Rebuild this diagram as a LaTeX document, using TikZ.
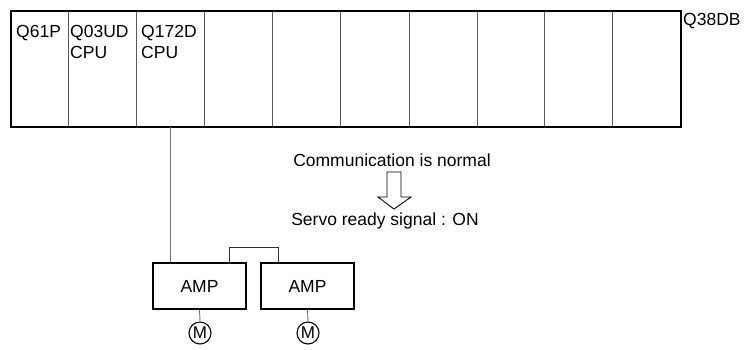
\documentclass[tikz,border=0pt]{standalone}
\usepackage{fontspec}
\setmainfont{Liberation Sans}
\begin{document}
\begin{tikzpicture}[x=1pt,y=-1pt,
  lbl/.style={font=\fontsize{17.5}{21}\selectfont, inner sep=0pt},
  slot/.style={draw=black!65, line width=0.9pt, minimum height=116pt, inner sep=0pt, anchor=north west},
  ampbox/.style={draw=black, line width=1.2pt, minimum width=93pt, minimum height=46pt, font=\fontsize{17.5}{21}\selectfont, inner sep=0pt},
  motor/.style={draw=black, line width=1.1pt, circle, minimum size=22pt, inner sep=0pt, font=\fontsize{17}{17}\selectfont},
  wire/.style={draw=black!55, line width=0.9pt},
  link/.style={draw=black!80, line width=0.9pt}
]
\useasboundingbox (0,0) rectangle (747,349);
% slots
\node[slot, minimum width=58pt] (s1) at (10,10) {};
\node[slot, minimum width=68pt] (s2) at (68,10) {};
\node[slot, minimum width=68pt] (s3) at (136,10) {};
\node[slot, minimum width=68pt] (s4) at (204,10) {};
\node[slot, minimum width=68pt] (s5) at (272,10) {};
\node[slot, minimum width=69pt] (s6) at (340,10) {};
\node[slot, minimum width=68pt] (s7) at (409,10) {};
\node[slot, minimum width=67pt] (s8) at (477,10) {};
\node[slot, minimum width=68pt] (s9) at (544,10) {};
\node[slot, minimum width=68pt] (s10) at (612,10) {};
% rack outline
\node[draw=black, line width=1.7pt, minimum width=670pt, minimum height=116pt, inner sep=0pt, anchor=north west] (rack) at (10,10) {};
% slot labels
\node[lbl, anchor=base west] (t1) at (16,37) {Q61P};
\node[lbl, anchor=base west, align=left] (t2) at (70,58) {Q03UD\\CPU};
\node[lbl, anchor=base west, align=left] (t3) at (141,58) {Q172D\\CPU};
\node[lbl, anchor=base west] (t4) at (683,25) {Q38DB};
% amplifiers
\node[ampbox] (amp1) at (199.5,286) {AMP};
\node[ampbox] (amp2) at (307.5,286) {AMP};
\node[motor] (m1) at (200,333) {M};
\node[motor] (m2) at (308,333) {M};
% connectors
\draw[wire] (s3.south) -- (s3.south |- amp1.north);
\draw[wire] (amp1.south) -- (m1.north);
\draw[wire] (amp2.south) -- (m2.north);
\coordinate (la) at ([xshift=29.5pt]amp1.north);
\coordinate (lb) at ([xshift=-29.5pt]amp2.north);
\draw[link] (la) -- ++(0,-15) -| (lb);
% status texts
\node[lbl] (comm) at (392,160) {Communication is normal};
\node[lbl] (servo) at (385,221) {Servo ready signal : ON};
% hollow arrow
\draw[line width=0.9pt, line join=miter] (387,172) -- (387,197) -- (378,197) -- (394,209) -- (411,197) -- (401,197) -- (401,172) -- cycle;
\end{tikzpicture}
\end{document}
